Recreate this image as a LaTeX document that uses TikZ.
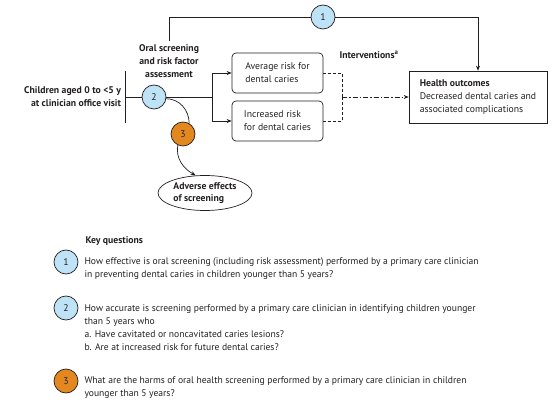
\documentclass[tikz,border=0pt]{standalone}
\usepackage{fontspec}
\setmainfont{PT Sans}
\usetikzlibrary{arrows.meta,shapes.geometric}
\definecolor{txt}{HTML}{231F20}
\definecolor{kqblue}{HTML}{BEE3F7}
\definecolor{kqorange}{HTML}{E2881E}
\tikzset{
  every node/.style={font=\fontsize{9.7}{12.8}\selectfont, text=txt},
  lbl/.style={font=\fontsize{9.7}{12.8}\selectfont\bfseries},
  kq/.style={circle, draw=txt, line width=0.7pt, minimum size=24pt, inner sep=0pt},
  blue/.style={kq, fill=kqblue},
  orange/.style={kq, fill=kqorange},
  riskbox/.style={draw=txt, line width=0.7pt, rounded corners=4pt, minimum width=91pt, minimum height=40pt, align=left},
  conn/.style={draw=txt, line width=0.7pt},
  arr/.style={conn, -{Stealth[length=5pt,width=4pt]}},
  dsh/.style={conn, dash pattern=on 3pt off 2pt},
  ddot/.style={conn, dash pattern=on 5pt off 2pt on 1.5pt off 2pt},
  qtext/.style={anchor=west, align=left, font=\fontsize{9.6}{13}\selectfont}
}
\begin{document}
\begin{tikzpicture}[x=1pt,y=-1pt]
\useasboundingbox (0,0) rectangle (554,406);
% nodes
\node[blue] (c1) at (323,17) {1};
\node[lbl, align=center] (oral) at (169,61) {Oral screening\\and risk factor\\assessment};
\node[lbl, align=right, anchor=east] (child) at (124.5,96.5) {Children aged 0 to <5 y\\at clinician office visit};
\coordinate (barT) at (125,71);
\coordinate (barB) at (125,123);
\coordinate (barM) at (125,97);
\node[blue] (c2) at (154,97) {2};
\coordinate (split) at (212,97);
\coordinate (splitT) at (212,73);
\coordinate (splitB) at (212,121);
\node[riskbox] (avg) at (277.5,73) {Average risk for\\dental caries};
\node[riskbox] (inc) at (277.5,121) {Increased risk\\for dental caries};
\coordinate (join) at (342,97);
\node[lbl] (interv) at (369,55) {Interventions\textsuperscript{a}};
\node[draw=txt, line width=0.7pt, minimum width=138pt, minimum height=52pt, align=left] (health) at (478,97)
  {\textbf{Health outcomes}\\Decreased dental caries and\\associated complications};
\node[orange] (c3) at (183,134) {3};
\node[ellipse, draw=txt, line width=0.7pt, minimum width=94pt, minimum height=35pt, inner sep=0pt, lbl, align=left] (adv) at (205,193) {Adverse effects\\of screening};
% connectors
\draw[conn] (oral.north) |- (c1.west);
\draw[arr] (c1.east) -| (health.north);
\draw[conn] (barT) -- (barB);
\draw[conn] (barM) -- (c2.west);
\draw[conn] (c2.east) -- (split);
\draw[conn] (splitT) -- (splitB);
\draw[arr] (splitT) -- (avg.west);
\draw[arr] (splitB) -- (inc.west);
\draw[dsh] (avg.east) -| (join);
\draw[dsh] (inc.east) -| (join);
\draw[ddot, -{Stealth[length=5pt,width=4pt]}] (join) -- (health.west);
\draw[conn] (c2.-8) to[out=0,in=90] (c3.60);
\draw[arr] (c3.-115) to[out=-100,in=150] (adv.118);
% key questions
\node[lbl, anchor=west] (kqt) at (82,241) {Key questions};
\node[blue] (k1) at (66,262) {1};
\node[blue] (k2) at (66,308) {2};
\node[orange] (k3) at (66,381) {3};
\node[qtext] (q1) at (81,268.5)
  {How effective is oral screening (including risk assessment) performed by a primary care clinician\\in preventing dental caries in children younger than 5 years?};
\node[qtext] (q2) at (81,327.5)
  {How accurate is screening performed by a primary care clinician in identifying children younger\\than 5 years who\\a. Have cavitated or noncavitated caries lesions?\\b. Are at increased risk for future dental caries?};
\node[qtext] (q3) at (81,387.5)
  {What are the harms of oral health screening performed by a primary care clinician in children\\younger than 5 years?};
\end{tikzpicture}
\end{document}
